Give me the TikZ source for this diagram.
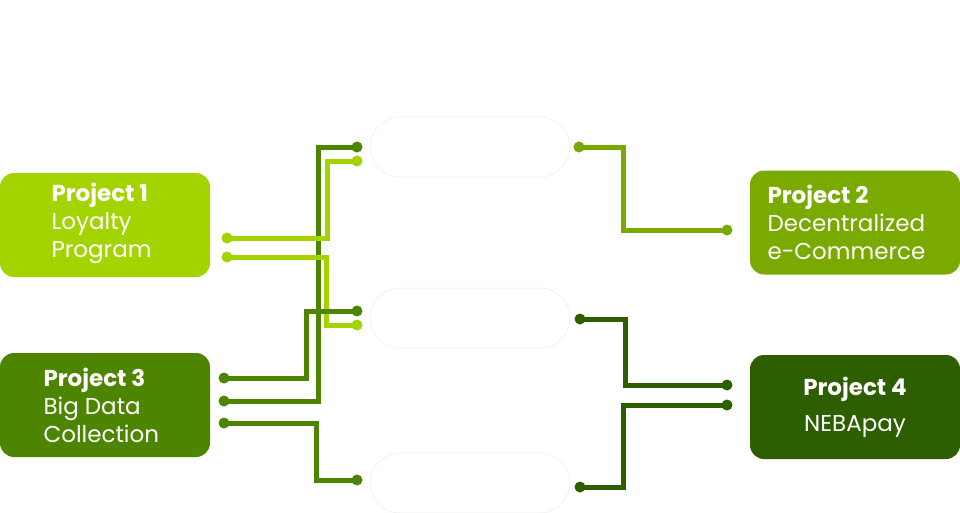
\documentclass[tikz,border=0pt]{standalone}
\usepackage{fontspec}
\setmainfont{Poppins}
\definecolor{limeg}{HTML}{A3D400}
\definecolor{oliveg}{HTML}{7AAA00}
\definecolor{midg}{HTML}{4E8500}
\definecolor{darkg}{HTML}{2D5E00}
\definecolor{pillb}{HTML}{F3F3F3}
\begin{document}
\begin{tikzpicture}[x=1pt,y=-1pt,
  proj/.style={rounded corners=14pt,minimum width=210pt,minimum height=104pt,text=white,font=\fontsize{23}{28}\selectfont,inner sep=0pt},
  pill/.style={rounded corners=30pt,draw=pillb,line width=1pt,fill=white,minimum width=200pt,minimum height=60pt,text=white,font=\bfseries\fontsize{20}{24}\selectfont},
  wire/.style={line width=5pt},
  dot/.style={circle,inner sep=0pt,minimum size=11pt}]
\useasboundingbox (0,0) rectangle (960,512);
\node[text=white,font=\bfseries\fontsize{32}{40}\selectfont,align=center] (title) at (470,45) {Company/business\\direction};
\node[proj,fill=limeg] (p1) at (105,225) {};
\node[text=white,font=\fontsize{23}{28}\selectfont,align=left,anchor=west] (t1) at (48,223) {\textbf{Project 1}\\Loyalty\\Program};
\node[proj,fill=oliveg] (p2) at (855,222.5) {};
\node[text=white,font=\fontsize{23}{28}\selectfont,align=left,anchor=west] (t2) at (764,222) {\textbf{Project 2}\\Decentralized\\e-Commerce};
\node[proj,fill=midg] (p3) at (105,405) {};
\node[text=white,font=\fontsize{23}{28}\selectfont,align=left,anchor=west] (t3) at (40,405) {\textbf{Project 3}\\Big Data\\Collection};
\node[proj,fill=darkg] (p4) at (855,407) {};
\node[text=white,font=\fontsize{23}{36}\selectfont,align=center] (t4) at (855,407) {\textbf{Project 4}\\NEBApay};
\node[pill] (nb) at (470,147) {NEXT BASKET};
\node[pill] (nt) at (470,318) {NEBA Token};
\node[pill] (np) at (470,483) {NEBApay};
% dots
\foreach \n/\x/\y/\c in {a1/227/238/limeg,a2/227/257/limeg,b1/357/161/limeg,b2/357/325/limeg,
  c1/224/378/midg,c2/224/401/midg,c3/224/423/midg,d1/357/147/midg,d2/357/311/midg,d3/357/480/midg,
  e1/579/147/oliveg,e2/727/230/oliveg,f1/580/319/darkg,f2/727/385/darkg,f3/727/405/darkg,f4/580/487/darkg}
  \node[dot,fill=\c] (\n) at (\x,\y) {};
\draw[wire,midg] (c2.center) -| (318,147) -- (d1.center);
\draw[wire,limeg] (a1.center) -| (327,161) -- (b1.center);
\draw[wire,limeg] (a2.center) -| (326,325) -- (b2.center);
\draw[wire,midg] (c1.center) -| (306,311) -- (d2.center);
\draw[wire,midg] (c3.center) -| (316,480) -- (d3.center);
\draw[wire,oliveg] (e1.center) -| (623,230) -- (e2.center);
\draw[wire,darkg] (f1.center) -| (625,385) -- (f2.center);
\draw[wire,darkg] (f3.center) -| (623,487) -- (f4.center);
\end{tikzpicture}
\end{document}
